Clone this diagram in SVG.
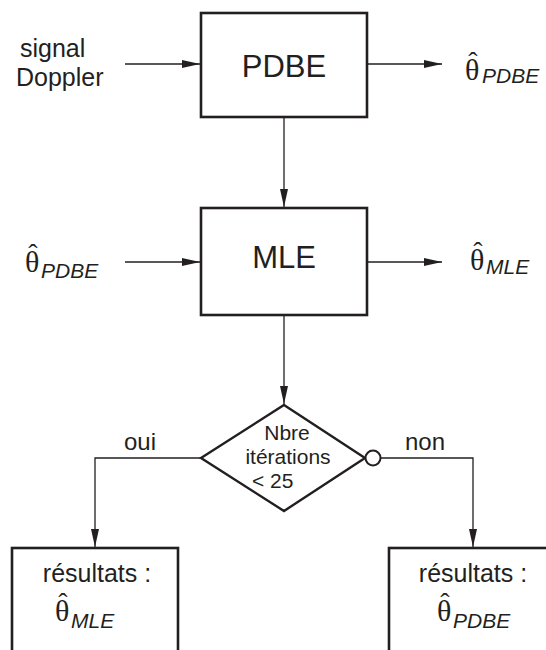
<svg xmlns="http://www.w3.org/2000/svg" width="546" height="650" viewBox="0 0 546 650">
<style>
.box{fill:#fff;stroke:#231f20;stroke-width:2.6}
.ln{fill:none;stroke:#231f20;stroke-width:1.3}
.t{font-family:"Liberation Sans",Arial,sans-serif;fill:#231f20}
.th{font-family:"Liberation Serif","Times New Roman",serif;fill:#231f20;font-size:30px}
.hat{font-family:"Liberation Serif","Times New Roman",serif;fill:#231f20;font-size:28px;text-anchor:middle}
.sub{font-family:"Liberation Sans",Arial,sans-serif;font-style:italic;font-size:21px;fill:#231f20}
</style>
<defs>
<marker id="ah" markerUnits="userSpaceOnUse" markerWidth="18" markerHeight="8" refX="18" refY="4" orient="auto">
<path d="M0,0 L18,4 L0,8 z" fill="#231f20"/>
</marker>
</defs>
<g id="connectors">
<line class="ln" x1="125" y1="64" x2="200" y2="64" marker-end="url(#ah)"/>
<line class="ln" x1="367" y1="64" x2="442" y2="64" marker-end="url(#ah)"/>
<line class="ln" x1="284" y1="117" x2="284" y2="207" marker-end="url(#ah)"/>
<line class="ln" x1="125" y1="262" x2="200" y2="262" marker-end="url(#ah)"/>
<line class="ln" x1="367" y1="262" x2="442" y2="262" marker-end="url(#ah)"/>
<line class="ln" x1="284" y1="315" x2="284" y2="404" marker-end="url(#ah)"/>
<polyline class="ln" points="200,458 95,458 95,547" marker-end="url(#ah)"/>
<polyline class="ln" points="381,458 473,458 473,547" marker-end="url(#ah)"/>
<text class="t" x="124" y="450" font-size="24">oui</text>
<text class="t" x="405" y="450" font-size="24">non</text>
</g>
<g id="input-signal">
<text class="t" x="20" y="57" font-size="25">signal</text>
<text class="t" x="16" y="86" font-size="25">Doppler</text>
</g>
<g id="pdbe">
<rect class="box" x="201" y="13" width="166" height="104"/>
<text class="t" x="284" y="77" font-size="31" text-anchor="middle">PDBE</text>
</g>
<g id="out-pdbe">
<text class="th" x="465" y="80">θ</text>
<text class="hat" x="473" y="71">ˆ</text>
<text class="sub" x="482" y="83">PDBE</text>
</g>
<g id="in-pdbe">
<text class="th" x="25" y="272">θ</text>
<text class="hat" x="33" y="263">ˆ</text>
<text class="sub" x="41" y="278">PDBE</text>
</g>
<g id="mle">
<rect class="box" x="201" y="208" width="166" height="107"/>
<text class="t" x="284" y="268" font-size="31" text-anchor="middle">MLE</text>
</g>
<g id="out-mle">
<text class="th" x="470" y="270">θ</text>
<text class="hat" x="478" y="261">ˆ</text>
<text class="sub" x="486" y="274">MLE</text>
</g>
<g id="decision">
<polygon points="284,405 365,458 284,511 201,458" fill="#fff" stroke="#231f20" stroke-width="2.4"/>
<circle cx="373" cy="458" r="7.5" fill="#fff" stroke="#231f20" stroke-width="2"/>
<text class="t" x="287" y="440" font-size="21" text-anchor="middle">Nbre</text>
<text class="t" x="288" y="464" font-size="21" text-anchor="middle">itérations</text>
<text class="t" x="252" y="488" font-size="21">&lt; 25</text>
</g>
<g id="result-mle">
<rect class="box" x="12" y="548" width="166" height="120"/>
<text class="t" x="97" y="582" font-size="25" text-anchor="middle">résultats :</text>
<text class="th" x="55" y="621">θ</text>
<text class="hat" x="63" y="612">ˆ</text>
<text class="sub" x="71" y="628">MLE</text>
</g>
<g id="result-pdbe">
<rect class="box" x="389" y="548" width="170" height="120"/>
<text class="t" x="473" y="582" font-size="25" text-anchor="middle">résultats :</text>
<text class="th" x="437" y="621">θ</text>
<text class="hat" x="445" y="612">ˆ</text>
<text class="sub" x="453" y="628">PDBE</text>
</g>
</svg>
